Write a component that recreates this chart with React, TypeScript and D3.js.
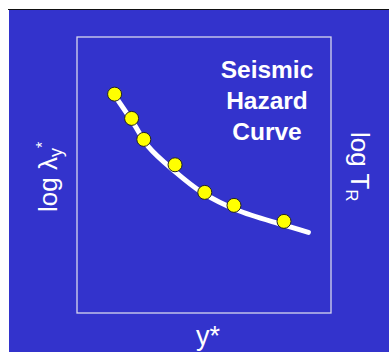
import React from "react";
import * as d3 from "d3";

// Hazard curve sample points (y*, log λ) in plot units
const pointX = [1.48, 2.15, 2.63, 3.86, 5.03, 6.18, 8.15];
const pointY = [7.93, 7.05, 6.29, 5.37, 4.37, 3.9, 3.32];

// Smooth fitted hazard curve
const curveX = [1.5, 2.22, 2.81, 3.79, 4.97, 6.29, 8.12, 9.11];
const curveY = [7.86, 6.88, 6.03, 5.18, 4.34, 3.73, 3.19, 2.92];

const titleLines = ["Seismic", "Hazard", "Curve"];

const W = 389;
const H = 352;
const box = { left: 77, right: 331, top: 37, bottom: 313 };

export default function App() {
  const x = d3.scaleLinear().domain([0, 10]).range([box.left, box.right]);
  const y = d3.scaleLinear().domain([0, 10]).range([box.bottom, box.top]);

  const line = d3
    .line<number>()
    .x((_, i) => x(curveX[i]))
    .y((_, i) => y(curveY[i]))
    .curve(d3.curveCatmullRom.alpha(0.5));

  const font = "'Liberation Sans', Arial, sans-serif";

  return (
    <svg
      width={W}
      height={H}
      style={{ position: "absolute", left: 0, top: 0, display: "block" }}
    >
      <rect x={0} y={0} width={W} height={H} fill="#ffffff" />
      <rect x={9} y={9} width={W - 9} height={H - 9} fill="#3333cc" />
      <line x1={8} x2={W} y1={9.5} y2={9.5} stroke="#111" strokeWidth={1.2} />

      <rect
        x={box.left}
        y={box.top}
        width={box.right - box.left}
        height={box.bottom - box.top}
        fill="none"
        stroke="#d8d8ee"
        strokeWidth={1.3}
      />

      <path
        d={line(curveX) ?? ""}
        fill="none"
        stroke="#ffffff"
        strokeWidth={5}
        strokeLinecap="round"
      />

      {pointX.map((px, i) => (
        <circle
          key={i}
          cx={x(px)}
          cy={y(pointY[i])}
          r={7}
          fill="#ffff00"
          stroke="#222"
          strokeWidth={1}
        />
      ))}

      {titleLines.map((t, i) => (
        <text
          key={t}
          x={267}
          y={78 + i * 31}
          textAnchor="middle"
          fill="#ffffff"
          fontFamily={font}
          fontWeight="bold"
          fontSize={24.5}
        >
          {t}
        </text>
      ))}

      <text
        transform="translate(57,212) rotate(-90)"
        fill="#ffffff"
        fontFamily={font}
        fontSize={26}
      >
        log λ
        <tspan fontSize={18} dy={5}>
          y
        </tspan>
        <tspan fontSize={16} dy={-14}>
          *
        </tspan>
      </text>

      <text
        transform="translate(351,132) rotate(90)"
        fill="#ffffff"
        fontFamily={font}
        fontSize={26}
      >
        log T
        <tspan fontSize={17} dy={5}>
          R
        </tspan>
      </text>

      <text
        x={208}
        y={345}
        textAnchor="middle"
        fill="#ffffff"
        fontFamily={font}
        fontSize={27}
      >
        y*
      </text>
    </svg>
  );
}
